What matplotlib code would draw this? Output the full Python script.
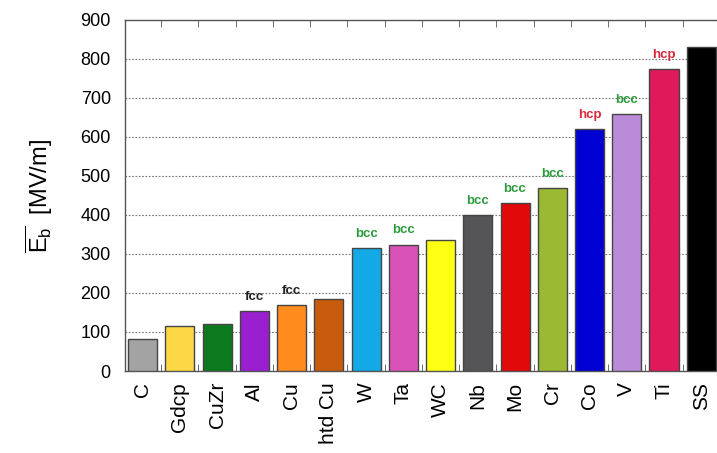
import numpy as np
import matplotlib
matplotlib.use('Agg')
import matplotlib.pyplot as plt

plt.rcParams['font.family'] = ['Liberation Sans', 'DejaVu Sans']
plt.rcParams['mathtext.fontset'] = 'custom'
plt.rcParams['mathtext.rm'] = 'Liberation Sans'
plt.rcParams['mathtext.it'] = 'Liberation Sans'

# Średnie pole przebicia dla materiałów elektrod
materials = ['C', 'Gdcp', 'CuZr', 'Al', 'Cu', 'htd Cu', 'W', 'Ta', 'WC',
             'Nb', 'Mo', 'Cr', 'Co', 'V', 'Ti', 'SS']
eb = [82, 115, 120, 154, 169, 185, 315, 324, 337, 400, 430, 468, 620, 659, 774, 830]
structure = ['', '', '', 'fcc', 'fcc', '', 'bcc', 'bcc', '', 'bcc', 'bcc', 'bcc',
             'hcp', 'bcc', 'hcp', '']
colors = ['#a3a3a3', '#fdd745', '#0b7a1c', '#9a20cf', '#ff8c1c', '#c85c0c',
          '#12a9e6', '#d852b8', '#ffff14', '#555557', '#e00a0a', '#9bb932',
          '#0000d2', '#b98bd8', '#e01a5a', '#000000']
struct_colors = {'fcc': '#222222', 'bcc': '#2a9a3a', 'hcp': '#d8283a'}

fig = plt.figure(figsize=(7.17, 4.53), dpi=100)
ax = fig.add_axes([0.174, 0.181, 0.83, 0.775])

x = np.arange(len(materials))
ax.bar(x, eb, width=0.78, color=colors, edgecolor='#444444', linewidth=1.0, zorder=3)

for xi, val, s in zip(x, eb, structure):
    if s:
        ax.annotate(s, (xi, val), xytext=(0, 6), textcoords='offset points',
                    ha='center', va='bottom', fontsize=9.5, fontweight='bold',
                    color=struct_colors[s], zorder=4)

ax.set_xlim(-0.48, 15.5)
ax.set_ylim(0, 900)
ax.set_yticks(range(0, 901, 100))
ax.yaxis.grid(True, linestyle=(0, (1.5, 1.5)), color='#777777', linewidth=0.8, zorder=0)

ax.set_xticks(x)
ax.set_xticklabels(materials, rotation=90, fontsize=15)
ax.tick_params(axis='x', length=0, pad=8)
ax.tick_params(axis='y', labelsize=13, direction='in', length=0, pad=10)

# znaczniki na granicach kategorii, u góry i u dołu
ax.set_xticks(x[:-1] + 0.5, minor=True)
ax.tick_params(axis='x', which='minor', direction='in', length=5, top=True,
               bottom=True, color='#555555')

for sp in ax.spines.values():
    sp.set_color('#555555')
    sp.set_linewidth(1.0)

ax.set_ylabel(r'$\overline{\mathrm{E}_\mathrm{b}}$  [MV/m]', fontsize=17, labelpad=18)

fig.savefig('out.png', dpi=100)
